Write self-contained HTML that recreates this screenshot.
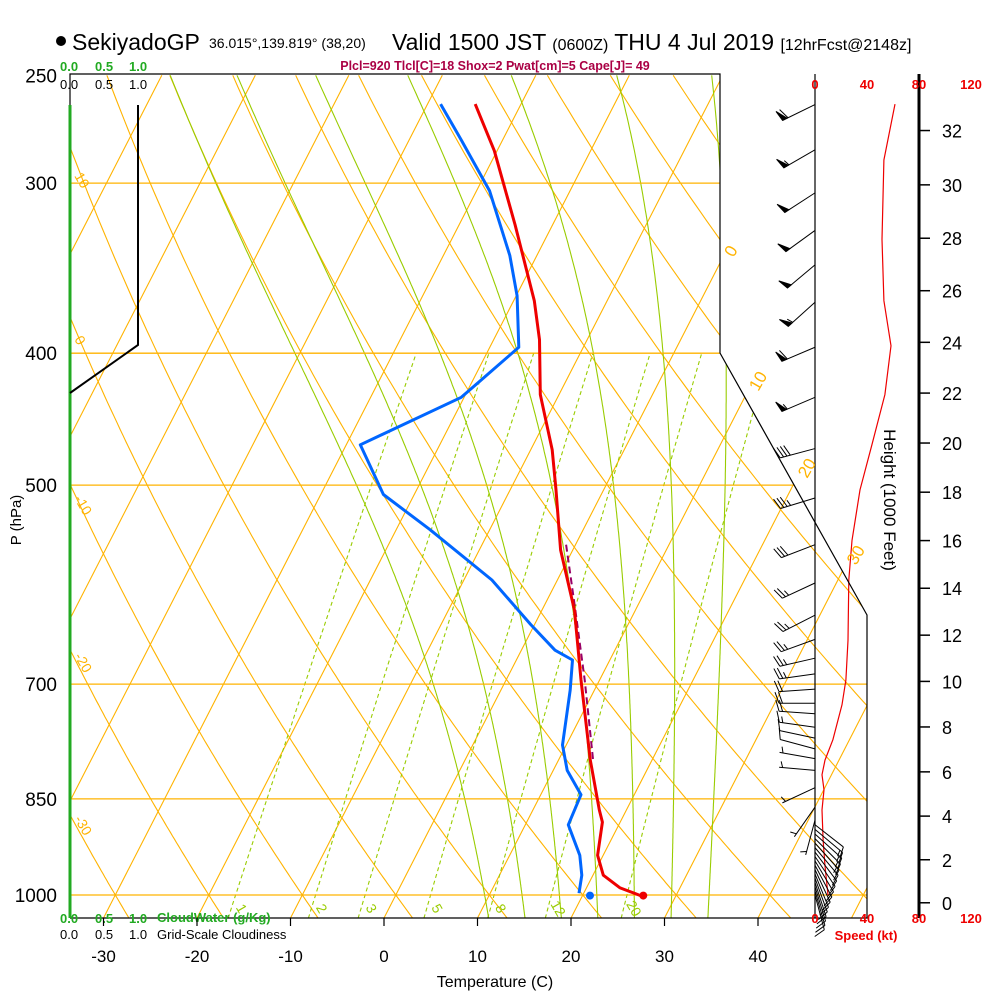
<!DOCTYPE html>
<html><head><meta charset="utf-8"><style>
html,body{margin:0;padding:0;background:#fff;}
svg{display:block;font-family:"Liberation Sans",Arial,sans-serif;}
</style></head><body>
<svg id="chart" width="1000" height="1000" viewBox="0 0 1000 1000" xmlns="http://www.w3.org/2000/svg">
<defs>
<clipPath id="plotClip"><polygon points="70,74 720,74 720,353 867,615 867,918 70,918"/></clipPath>
</defs>
<g>
<circle cx="61" cy="41" r="5" fill="#000"/>
<text x="72" y="50" font-size="23">SekiyadoGP</text>
<text x="209" y="48" font-size="14">36.015°,139.819° (38,20)</text>
<text x="392" y="50" font-size="23">Valid 1500 JST <tspan font-size="16">(0600Z)</tspan> THU 4 Jul 2019 <tspan font-size="16">[12hrFcst@2148z]</tspan></text>
<text x="495" y="70" font-size="12.5" font-weight="bold" fill="#aa0044" text-anchor="middle">Plcl=920 Tlcl[C]=18 Shox=2 Pwat[cm]=5 Cape[J]= 49</text>
</g>
<g id="guides" clip-path="url(#plotClip)"></g>
<g id="pressLines"></g>
<g id="profiles"></g>
<g id="frame">
<polyline points="70,918 70,74 720,74 720,353 867,615 867,918 70,918" fill="none" stroke="#000" stroke-width="1.2"/>
<line x1="815" y1="74" x2="815" y2="918" stroke="#000" stroke-width="1.2"/>
<line x1="70" y1="105" x2="70" y2="918" stroke="#22aa22" stroke-width="3"/>
<polyline points="138,105 138,345 70,393" fill="none" stroke="#000" stroke-width="2"/>
<line x1="919" y1="74" x2="919" y2="918" stroke="#000" stroke-width="3"/>
</g>
<g id="axes">
<g font-size="13">
<text x="60" y="71" fill="#22aa22" font-weight="bold">0.0</text><text x="95" y="71" fill="#22aa22" font-weight="bold">0.5</text><text x="129" y="71" fill="#22aa22" font-weight="bold">1.0</text>
<text x="60" y="89">0.0</text><text x="95" y="89">0.5</text><text x="129" y="89">1.0</text>
</g>
<g font-size="13">
<text x="60" y="923" fill="#22aa22" font-weight="bold">0.0</text><text x="95" y="923" fill="#22aa22" font-weight="bold">0.5</text><text x="129" y="923" fill="#22aa22" font-weight="bold">1.0</text>
<text x="157" y="922" fill="#22aa22" font-weight="bold">CloudWater (g/Kg)</text>
<text x="60" y="939">0.0</text><text x="95" y="939">0.5</text><text x="129" y="939">1.0</text>
<text x="157" y="939">Grid-Scale Cloudiness</text>
</g>
<text x="495" y="987" font-size="16" text-anchor="middle">Temperature (C)</text>
<text transform="translate(21,520) rotate(-90)" font-size="15" text-anchor="middle">P (hPa)</text>
<text transform="translate(884,500) rotate(90)" font-size="17" text-anchor="middle">Height (1000 Feet)</text>
<text x="866" y="940" font-size="13" fill="#ee0000" font-weight="bold" text-anchor="middle">Speed (kt)</text>
</g>
<script>
// ---------- data ----------
const tempP   = [262.5,284,322,366,391,429,471,504,558,618,695,796,866,884,935,967,988,1001];
const tempC   = [-34.9,-30.3,-24.0,-17.8,-15.1,-12.0,-7.7,-5.1,-1.3,3.5,8.0,13.4,17.1,18.1,19.4,21.1,23.6,26.2];
const dewP    = [262.5,279,304,339,363,396,431,467,508,539,587,633,661,672,707,750,776,810,844,888,935,967,997];
const dewC    = [-38.6,-34.4,-28.6,-22.9,-19.9,-16.9,-20.3,-28.5,-23.3,-16.4,-7.0,-0.4,3.6,6.0,7.4,8.8,9.6,11.5,14.3,14.6,17.5,18.8,19.5];
const parcelP = [553,618,695,796];
const parcelC = [-1.0,3.6,8.4,13.7];
const sfcP = 1001, sfcT = 26.5, sfcTd = 20.8;
const windP   = [262.7,283.6,305,325,344.5,367,396,431,470,511,553,590,623,649,670,688,706,723,736,753,767,781,794,810,834,862,881,
                 888,895,902,909,916,923,930,937,944,951,958,965,972,979,986,993,1000];
const windDir = [244,240,237,234,230,228,247,247,255,253,249,245,243,250,257,262,266,270,274,278,282,285,280,275,245,215,195,
                 128,130,132,135,138,140,143,146,149,152,155,158,160,162,163,164,165];
const windKt  = [60,55,52,52,52,55,58,53,42,35,30,27,26,25,25,24,22,20,18,15,12,8,7,6,6,6,6,
                 12,14,15,14,13,12,11,10,10,10,10,10,10,10,10,10,10];
const spdP    = [262.5,288.5,330,366,395,429,467,504,549,587,650,695,725,769,796,816,837,866,911,952,1000];
const spdKt   = [61.5,53,51.5,53,58.5,53.8,43.8,34.6,28.5,26,25.4,23.8,20.8,13.8,7.7,5.4,6.9,5.4,6.2,7.7,10];
const pressTicks = [250,300,400,500,700,850,1000];
const tempTicks  = [-30,-20,-10,0,10,20,30,40];
const heightTicks= [0,2,4,6,8,10,12,14,16,18,20,22,24,26,28,30,32];
const speedTicks = [0,40,80,120];
const isoLabels  = [0,10,20,30];
const thetaLabels= [10,0,-10,-20,-30];
const mixRatios  = [1,2,3,5,8,12,20];
const moistThetaW= [9.5,13.5,17.5,21.5,25.5,29.5,33.5];

// ---------- axis functions ----------
const NS='http://www.w3.org/2000/svg';
function yP(p){ return 895 - 591.3*Math.log(1000/p); }
function xT(T,p){ return 384 + 9.35*T + 0.513*(918 - yP(p)); }
function xSpd(k){ return 815 + 1.3*k; }
function hToP(kft){ const z=kft*304.8; return 1013.25*Math.pow(1-2.25577e-5*z,5.25588); }
function mk(tag,attrs,parent){ const e=document.createElementNS(NS,tag); for(const k in attrs) e.setAttribute(k,attrs[k]); parent.appendChild(e); return e; }
function ptsStr(arr){ return arr.map(a=>a[0].toFixed(1)+','+a[1].toFixed(1)).join(' '); }
const guides=document.getElementById('guides'), prof=document.getElementById('profiles'), axes=document.getElementById('axes'), press=document.getElementById('pressLines');
const ORANGE='#ffb300', GREEN='#99cc00';
const pList=[]; for(let p=1040;p>=250;p-=5) pList.push(p);

// isotherms
for(let T=-130;T<=50;T+=10){
  const l=mk('line',{x1:xT(T,1040),y1:yP(1040),x2:xT(T,250),y2:yP(250),stroke:ORANGE,'stroke-width':1.1},guides);
  
  
}
// dry adiabats
for(let th=-40;th<=170;th+=10){
  const pts=pList.map(p=>[xT((th+273.15)*Math.pow(p/1000,0.2857)-273.15,p),yP(p)]);
  const l=mk('polyline',{points:ptsStr(pts),fill:'none',stroke:ORANGE,'stroke-width':1.1},guides);
  
  
}
// moist adiabats
function es(T){ return 6.112*Math.exp(17.67*T/(T+243.5)); }
function moistPath(tw){
  function grad(T,p){ const Tk=T+273.15, e=es(T), rs=0.622*e/(p-e);
    return (287*Tk+2.5e6*rs)/(p*(1005+2.5e6*2.5e6*rs*0.622/(287*Tk*Tk))); }
  const up=[], dn=[]; let T=tw;
  for(let p=1000;p>=250;p-=2){ up.push([xT(T,p),yP(p)]); T-=grad(T,p)*2; }
  T=tw; for(let p=1000;p<=1040;p+=2){ dn.push([xT(T,p),yP(p)]); T+=grad(T,p)*2; }
  return dn.reverse().concat(up);
}
moistThetaW.forEach(tw=>{
  const l=mk('polyline',{points:ptsStr(moistPath(tw)),fill:'none',stroke:GREEN,'stroke-width':1.1},guides);
  
  
});
// mixing ratio lines
function tdFromW(w,p){ const e=w*p/(622+w); const a=Math.log(e/6.112); return 243.5*a/(17.67-a); }
mixRatios.forEach(w=>{
  const pts=[]; for(let p=1040;p>=400;p-=10) pts.push([xT(tdFromW(w,p),p),yP(p)]);
  const l=mk('polyline',{points:ptsStr(pts),fill:'none',stroke:GREEN,'stroke-width':1.1,'stroke-dasharray':'4,3'},guides);
  
  
  const p=1022, x=xT(tdFromW(w,p),p)+6, y=yP(p)+3;
  const t=mk('text',{x:x,y:y,'font-size':14,fill:GREEN,'text-anchor':'middle',transform:'rotate(60 '+x+' '+y+')'},guides);
  t.textContent=w;
  
  
});
// pressure lines and labels
pressTicks.forEach(p=>{
  const y=yP(p);
  if(p>250){
    const xr = y<=353 ? 720 : Math.min(867, 720+(y-353)*(147/262));
    const l=mk('line',{x1:70,y1:y,x2:xr,y2:y,stroke:ORANGE,'stroke-width':1.3},press);
    
    
  }
  const t=mk('text',{x:57,y:y+7,'font-size':19,'text-anchor':'end'},axes);
  t.textContent=p;
  
  
});
// temperature ticks
tempTicks.forEach(T=>{
  const x=384+9.35*T;
  const l=mk('line',{x1:x,y1:918,x2:x,y2:926,stroke:'#000','stroke-width':1.2},axes);
  
  
  const t=mk('text',{x:x,y:962,'font-size':17,'text-anchor':'middle'},axes);
  t.textContent=T;
  
  
});
// isotherm labels at right boundary
isoLabels.forEach(T=>{
  let yy=74; for(let y=74;y<918;y+=1){ const p=1000*Math.exp(-(895-y)/591.3); const x=xT(T,p); const xr= y<=353?720:720+(y-353)*(147/262); if(x<=xr){ yy=y; break; } }
  const p=1000*Math.exp(-(895-yy)/591.3); const x=xT(T,p)+14, y=yy-6;
  const t=mk('text',{x:x,y:y,'font-size':17,fill:ORANGE,transform:'rotate(-60 '+x+' '+y+')'},axes);
  t.textContent=T;
  
  
});
// dry adiabat labels at left edge
thetaLabels.forEach(th=>{
  let yy=100; for(let y=80;y<918;y+=1){ const p=1000*Math.exp(-(895-y)/591.3); const x=xT((th+273.15)*Math.pow(p/1000,0.2857)-273.15,p); if(x>=70){ yy=y; break; } }
  const x=74, y=yy+4+Math.max(0,(700-yy)*0.045);
  const t=mk('text',{x:x,y:y,'font-size':14,fill:ORANGE,transform:'rotate(60 '+x+' '+y+')'},axes);
  t.textContent=th;
  
  
});
// height ticks
heightTicks.forEach(h=>{
  const y=yP(hToP(h));
  const l=mk('line',{x1:919,y1:y,x2:930,y2:y,stroke:'#000','stroke-width':1.5},axes);
  
  
  const t=mk('text',{x:942,y:y+7,'font-size':18},axes);
  t.textContent=h;
  
  
});
// speed ticks labels
speedTicks.forEach(k=>{
  const x=xSpd(k);
  const t1=mk('text',{x:x,y:89,'font-size':13,fill:'#ee0000','font-weight':'bold','text-anchor':'middle'},axes);
  t1.textContent=k;
  
  
  const t2=mk('text',{x:x,y:923,'font-size':13,fill:'#ee0000','font-weight':'bold','text-anchor':'middle'},axes);
  t2.textContent=k;
  
  
});
// speed profile
{
  const pts=spdP.map((p,i)=>[xSpd(spdKt[i]),yP(p)]);
  const l=mk('polyline',{points:ptsStr(pts),fill:'none',stroke:'#ee0000','stroke-width':1.2},prof);
  
  
}
// profiles
function profLine(P,T,color,w,dash,name){
  const pts=P.map((p,i)=>[xT(T[i],p),yP(p)]);
  const a={points:ptsStr(pts),fill:'none',stroke:color,'stroke-width':w,'stroke-linejoin':'round'};
  if(dash) a['stroke-dasharray']=dash;
  const l=mk('polyline',a,prof);
  
  
}
profLine(parcelP,parcelC,'#990066',2,'7,4','parcel-line');
profLine(dewP,dewC,'#0066ff',3,null,'dewpoint-line');
profLine(tempP,tempC,'#ee0000',3,null,'temperature-line');
{
  const c1=mk('circle',{cx:xT(sfcTd,sfcP),cy:yP(sfcP),r:4,fill:'#0066ff'},prof);
  
  
  const c2=mk('circle',{cx:xT(sfcT,sfcP),cy:yP(sfcP),r:4,fill:'#ee0000'},prof);
  
  
}
// wind barbs
const barbG=mk('g',{},prof);


windP.forEach((p,i)=>{
  const d=windDir[i]*Math.PI/180, L=36;
  const bx=815, by=yP(p);
  const ux=Math.sin(d), uy=-Math.cos(d);
  const tx=bx+ux*L, ty=by+uy*L;
  const nx=-uy, ny=ux;
  const g=mk('g',{stroke:'#000',fill:'#000','stroke-width':1},barbG);
  
  
  mk('line',{x1:bx,y1:by,x2:tx,y2:ty},g);
  let s=Math.round(windKt[i]/5)*5, pos=0;
  while(s>=50){ const ax=tx-ux*pos, ay=ty-uy*pos;
    mk('polygon',{points:ptsStr([[ax,ay],[ax+nx*11+ux*2,ay+ny*11+uy*2],[ax-ux*5,ay-uy*5]])},g); pos+=6; s-=50; }
  while(s>=10){ const ax=tx-ux*pos, ay=ty-uy*pos;
    mk('line',{x1:ax,y1:ay,x2:ax+nx*11+ux*4,y2:ay+ny*11+uy*4},g); pos+=3.5; s-=10; }
  if(s>=5){ if(pos===0) pos=3.5; const ax=tx-ux*pos, ay=ty-uy*pos;
    mk('line',{x1:ax,y1:ay,x2:ax+nx*6+ux*2,y2:ay+ny*6+uy*2},g); }
});
</script>
</svg>
</body></html>
